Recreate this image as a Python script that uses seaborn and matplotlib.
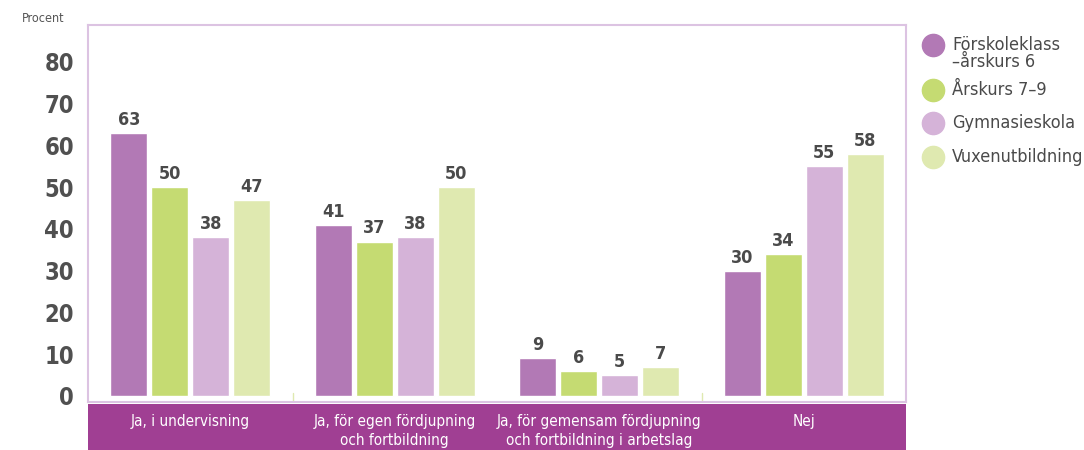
import matplotlib
matplotlib.use("Agg")
import matplotlib.pyplot as plt
import seaborn as sns
import pandas as pd
from matplotlib.lines import Line2D

categories = ["Ja, i undervisning", "Ja, för egen fördjupning\noch fortbildning",
              "Ja, för gemensam fördjupning\noch fortbildning i arbetslag", "Nej"]
series = ["Förskoleklass\n–årskurs 6", "Årskurs 7–9", "Gymnasieskola", "Vuxenutbildning"]
forskoleklass = [63, 41, 9, 30]
arskurs79 = [50, 37, 6, 34]
gymnasieskola = [38, 38, 5, 55]
vuxenutbildning = [47, 50, 7, 58]
yticks = [0, 10, 20, 30, 40, 50, 60, 70, 80]

colors = ["#b279b5", "#c5db72", "#d5b3d8", "#dfe9b0"]
band_color = "#a03f93"
text_color = "#4a4a4a"

sns.set_style("white")
plt.rcParams['font.family'] = ['DejaVu Sans']
plt.rcParams['font.stretch'] = 'condensed'

rows = []
for s, vals in zip(series, [forskoleklass, arskurs79, gymnasieskola, vuxenutbildning]):
    for c, v in zip(categories, vals):
        rows.append({"cat": c, "serie": s, "val": v})
df = pd.DataFrame(rows)

fig = plt.figure(figsize=(10.84, 4.5), dpi=100)
ax = fig.add_axes([88/1084, 1-402/450, (906-88)/1084, (402-25)/450])

sns.barplot(data=df, x="cat", y="val", hue="serie", order=categories, hue_order=series,
            palette=colors, width=0.8, gap=0.1, ax=ax, legend=False, saturation=1)

for cont in ax.containers:
    ax.bar_label(cont, padding=3, fontsize=13, fontweight="bold", color=text_color)

ax.set_xlim(-0.5, 3.5)
ax.set_ylim(-1.44, 88.86)
ax.set_yticks(yticks)
ax.set_yticklabels([str(t) for t in yticks], fontsize=17, fontweight="bold", color="#505050")
ax.tick_params(axis="y", length=0, pad=10)
ax.set_xticks([])
ax.set_xlabel("")
ax.set_ylabel("")
for sp in ax.spines.values():
    sp.set_visible(True)
    sp.set_color("#dcc3e2")
    sp.set_linewidth(1.5)

for xs in [0.5, 2.5]:
    ax.plot([xs, xs], [-1.44, 0.6], color="#dfe9b0", lw=1)

# category band
bax = fig.add_axes([88/1084, 0, (906-88)/1084, (450-404)/450])
bax.set_facecolor(band_color)
bax.set_xlim(-0.5, 3.5)
bax.set_ylim(0, 1)
for sp in bax.spines.values():
    sp.set_visible(False)
bax.set_xticks([])
bax.set_yticks([])
for i, c in enumerate(categories):
    bax.text(i, 0.78, c, ha="center", va="top", color="white", fontsize=11,
             linespacing=1.3)

fig.text(22/1084, 1-18/450, "Procent", ha="left", va="center", fontsize=9,
         color="#555555")

# legend
leg_y = [45, 90, 123, 157]
for c, s, y in zip(colors, series, leg_y):
    fig.add_artist(Line2D([933/1084], [1-y/450], marker="o", linestyle="", markersize=16,
                          markerfacecolor=c, markeredgecolor=c, transform=fig.transFigure))
    fig.text(952/1084, 1-(y-9)/450, s, ha="left", va="top", fontsize=13,
             color=text_color, linespacing=0.95)

fig.savefig("out.png", dpi=100)
